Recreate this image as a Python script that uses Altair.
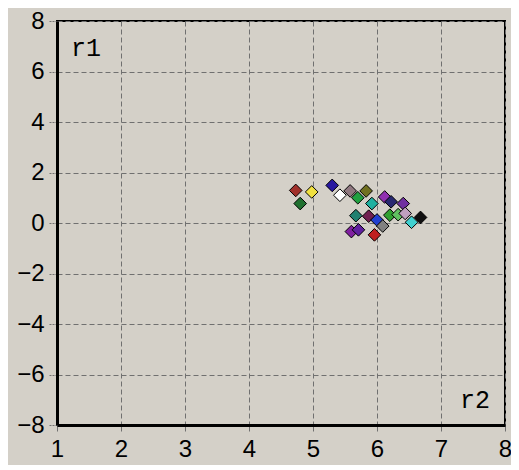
import altair as alt
import pandas as pd

r2 = [4.73, 4.98, 4.80, 5.30, 5.42, 5.58, 5.83, 5.70, 5.92, 6.12, 6.22, 6.41,
      5.67, 5.87, 6.00, 6.20, 6.33, 6.44, 6.54, 6.68, 5.60, 5.71, 6.09, 5.96]
r1 = [1.29, 1.23, 0.77, 1.49, 1.10, 1.27, 1.27, 1.00, 0.77, 1.03, 0.84, 0.77,
      0.29, 0.27, 0.12, 0.31, 0.33, 0.38, 0.03, 0.22, -0.34, -0.27, -0.12, -0.47]
colors = ["#a0302a", "#f0e040", "#207030", "#2818a0", "#ffffff", "#907880",
          "#707020", "#20a040", "#20b0a0", "#9030b0", "#282870", "#7030a0",
          "#208070", "#702050", "#2040d0", "#30a030", "#60c060", "#c0a0c0",
          "#40d0d0", "#101010", "#8020a0", "#6020a0", "#808080", "#c02020"]

x_ticks = [1, 2, 3, 4, 5, 6, 7, 8]
y_ticks = [-8, -6, -4, -2, 0, 2, 4, 6, 8]

df = pd.DataFrame({"r2": r2, "r1": r1, "c": colors})

bg = "#d4d0c8"

points = alt.Chart(df).mark_point(
    shape="diamond", filled=True, size=160, stroke="black", strokeWidth=1,
    opacity=1, fillOpacity=1
).encode(
    x=alt.X("r2:Q", scale=alt.Scale(domain=[1, 8], nice=False, zero=False),
            axis=alt.Axis(values=x_ticks, title=None, grid=True,
                          gridColor="#707070", gridDash=[5, 3], gridWidth=1,
                          domainColor="black", domainWidth=3,
                          tickColor="#707070", tickSize=6, tickWidth=1,
                          labelFont="Liberation Sans", labelFontSize=24,
                          labelColor="black", labelPadding=6,
                          labelFlush=False)),
    y=alt.Y("r1:Q", scale=alt.Scale(domain=[-8, 8], nice=False, zero=False),
            axis=alt.Axis(values=y_ticks, title=None, grid=True,
                          gridColor="#707070", gridDash=[5, 3], gridWidth=1,
                          domainColor="black", domainWidth=3,
                          tickColor="#707070", tickSize=9, tickWidth=1,
                          tickDash=[2, 1],
                          labelFont="Liberation Sans", labelFontSize=24,
                          labelColor="black", labelPadding=4,
                          labelFlush=False)),
    color=alt.Color("c:N", scale=None, legend=None),
)

lab1 = alt.Chart(pd.DataFrame({"t": ["r1"]})).mark_text(
    font="Liberation Mono", fontSize=25, align="left", baseline="alphabetic",
    color="black"
).encode(text="t:N", x=alt.value(14), y=alt.value(35))

lab2 = alt.Chart(pd.DataFrame({"t": ["r2"]})).mark_text(
    font="Liberation Mono", fontSize=25, align="right", baseline="alphabetic",
    color="black"
).encode(text="t:N", x=alt.value(433), y=alt.value(387))

chart = alt.layer(points, lab1, lab2).properties(
    width=448, height=404,
    background=bg,
    autosize=alt.AutoSizeParams(type="none"),
    padding={"left": 49, "top": 13, "right": 6, "bottom": 40},
).configure_view(stroke="black", strokeWidth=2, fill=bg)

chart.save("out.html", embed_options={"renderer": "svg", "actions": False})
